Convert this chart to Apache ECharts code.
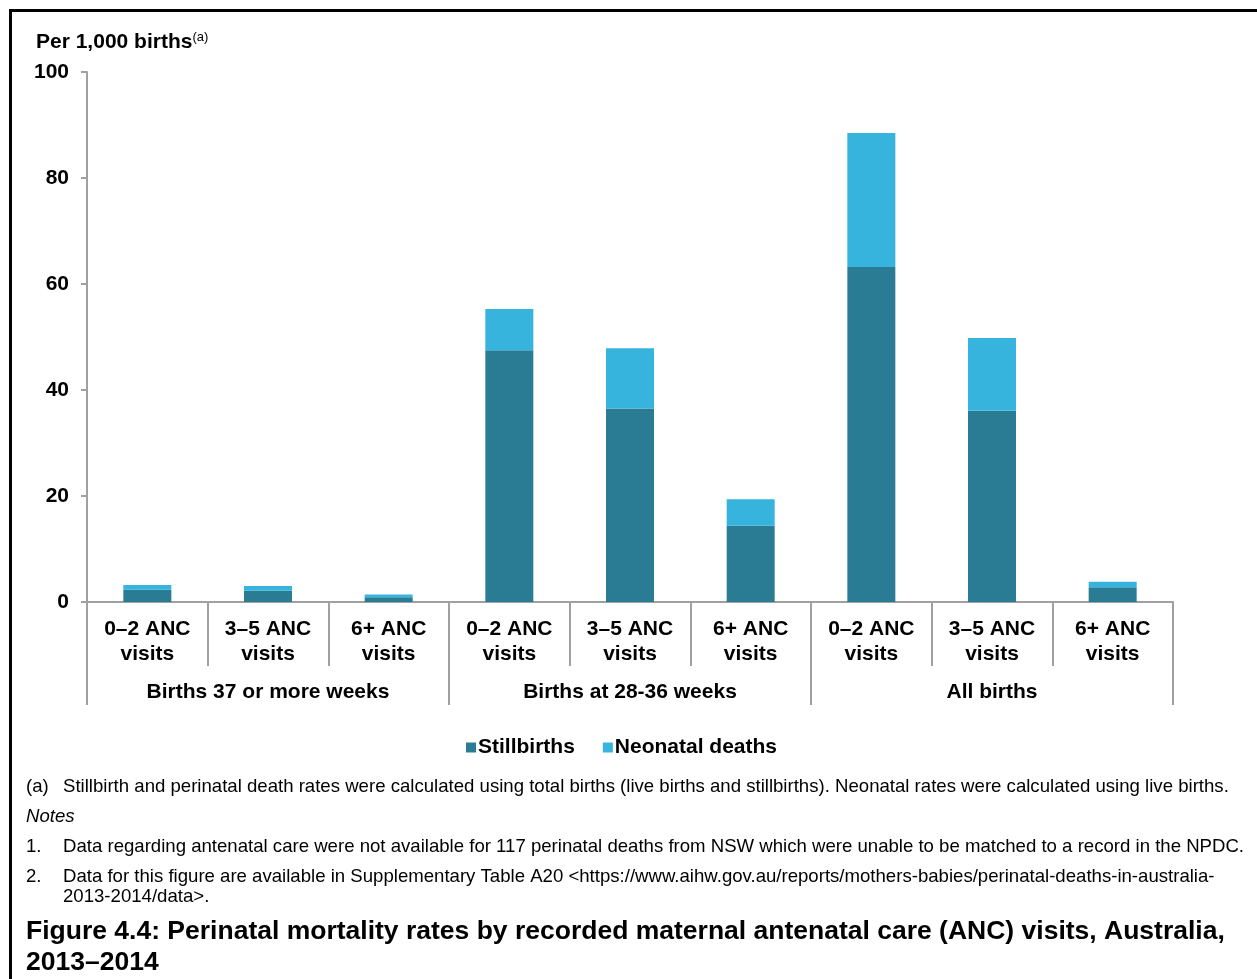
<!DOCTYPE html>
<html>
<head>
<meta charset="utf-8">
<script src="https://cdn.jsdelivr.net/npm/echarts@6/dist/echarts.min.js"></script>
<style>
  html, body { margin: 0; padding: 0; background: #fff; }
  #chart { width: 1257px; height: 979px; }
</style>
</head>
<body>
<div id="chart"></div>
<script>
// visits per group, and the groups
let categories = [
  '0–2 ANC\nvisits', '3–5 ANC\nvisits', '6+ ANC\nvisits',
  '0–2 ANC\nvisits', '3–5 ANC\nvisits', '6+ ANC\nvisits',
  '0–2 ANC\nvisits', '3–5 ANC\nvisits', '6+ ANC\nvisits'
]
let groups = ['Births 37 or more weeks', 'Births at 28-36 weeks', 'All births']

// per 1,000 births
let stillbirths = [2.3, 2.1, 0.9, 47.5, 36.5, 14.4, 63.2, 36.1, 2.8]
let neonatal = [0.9, 0.9, 0.5, 7.8, 11.4, 5.0, 25.3, 13.7, 1.0]

let seriesNames = ['Stillbirths', 'Neonatal deaths']

let footA = 'Stillbirth and perinatal death rates were calculated using total births (live births and stillbirths). Neonatal rates were calculated using live births.'
let note1 = 'Data regarding antenatal care were not available for 117 perinatal deaths from NSW which were unable to be matched to a record in the NPDC.'
let note2 = 'Data for this figure are available in Supplementary Table A20 <https://www.aihw.gov.au/reports/mothers-babies/perinatal-deaths-in-australia-\n2013-2014/data>.'
let figTitle = 'Figure 4.4: Perinatal mortality rates by recorded maternal antenatal care (ANC) visits, Australia,\n2013–2014'

const font = '"Liberation Sans", Arial, sans-serif'
const grey = '#a0a0a0'

let chart = echarts.init(document.getElementById('chart'))

function noteText (x, y, text, extra) {
  return {
    type: 'text', left: x, top: y,
    style: Object.assign({
      text: text, fontFamily: font, fontSize: 18.6, fill: '#000', lineHeight: 20
    }, extra || {})
  }
}

let options = {
  animation: false,
  grid: { left: 87, right: 84, top: 72, bottom: 377 },
  legend: {
    left: 461, top: 732,
    icon: 'rect', itemWidth: 10, itemHeight: 10, itemGap: 28,
    textStyle: { fontFamily: font, fontSize: 21, fontWeight: 'bold', color: '#000', padding: [0, 0, 0, -3] },
    data: seriesNames
  },
  xAxis: [{
    type: 'category',
    data: categories,
    axisLine: { lineStyle: { color: grey, width: 2 } },
    axisTick: { show: true, interval: 0, length: 64, lineStyle: { color: grey, width: 2 } },
    axisLabel: {
      interval: 0, margin: 15,
      fontFamily: font, fontSize: 21, fontWeight: 'bold', color: '#000', lineHeight: 25
    }
  }, {
    type: 'category',
    data: groups,
    position: 'bottom',
    axisLine: { show: false },
    axisTick: { show: true, interval: 0, length: 103, lineStyle: { color: grey, width: 2 } },
    axisLabel: {
      interval: 0, margin: 78,
      fontFamily: font, fontSize: 21, fontWeight: 'bold', color: '#000', lineHeight: 25
    }
  }],
  yAxis: {
    type: 'value',
    min: 0, max: 100, interval: 20,
    axisLine: { show: true, lineStyle: { color: grey, width: 2 } },
    axisTick: { show: true, length: 6, lineStyle: { color: grey, width: 2 } },
    splitLine: { show: false },
    axisLabel: { margin: 18, fontFamily: font, fontSize: 21, fontWeight: 'bold', color: '#000' }
  },
  series: [{
    name: seriesNames[0],
    type: 'bar',
    stack: 'total',
    barWidth: 48,
    itemStyle: { color: '#2a7c95' },
    data: stillbirths
  }, {
    name: seriesNames[1],
    type: 'bar',
    stack: 'total',
    barWidth: 48,
    itemStyle: { color: '#36b4dd' },
    data: neonatal
  }],
  graphic: [
    {
      type: 'polyline',
      shape: { points: [[10.5, 979], [10.5, 10.5], [1257, 10.5]] },
      style: { stroke: '#000', lineWidth: 3, fill: null }
    },
    {
      type: 'text', left: 36, top: 31,
      style: {
        text: '{a|Per 1,000 births}{b|(a)}',
        rich: {
          a: { fontFamily: font, fontSize: 21, fontWeight: 'bold', fill: '#000' },
          b: { fontFamily: font, fontSize: 13, fill: '#000', verticalAlign: 'top', padding: [0, 0, 10, 0] }
        }
      }
    },
    noteText(26, 777, '(a)'),
    noteText(63, 777, footA),
    noteText(26, 807, 'Notes', { fontStyle: 'italic' }),
    noteText(26, 837, '1.'),
    noteText(63, 837, note1),
    noteText(26, 867, '2.'),
    noteText(63, 867, note2),
    {
      type: 'text', left: 26, top: 916,
      style: {
        text: figTitle, fontFamily: font, fontSize: 26.5, fontWeight: 'bold', fill: '#000', lineHeight: 31
      }
    }
  ]
}

chart.setOption(options)
</script>
</body>
</html>
